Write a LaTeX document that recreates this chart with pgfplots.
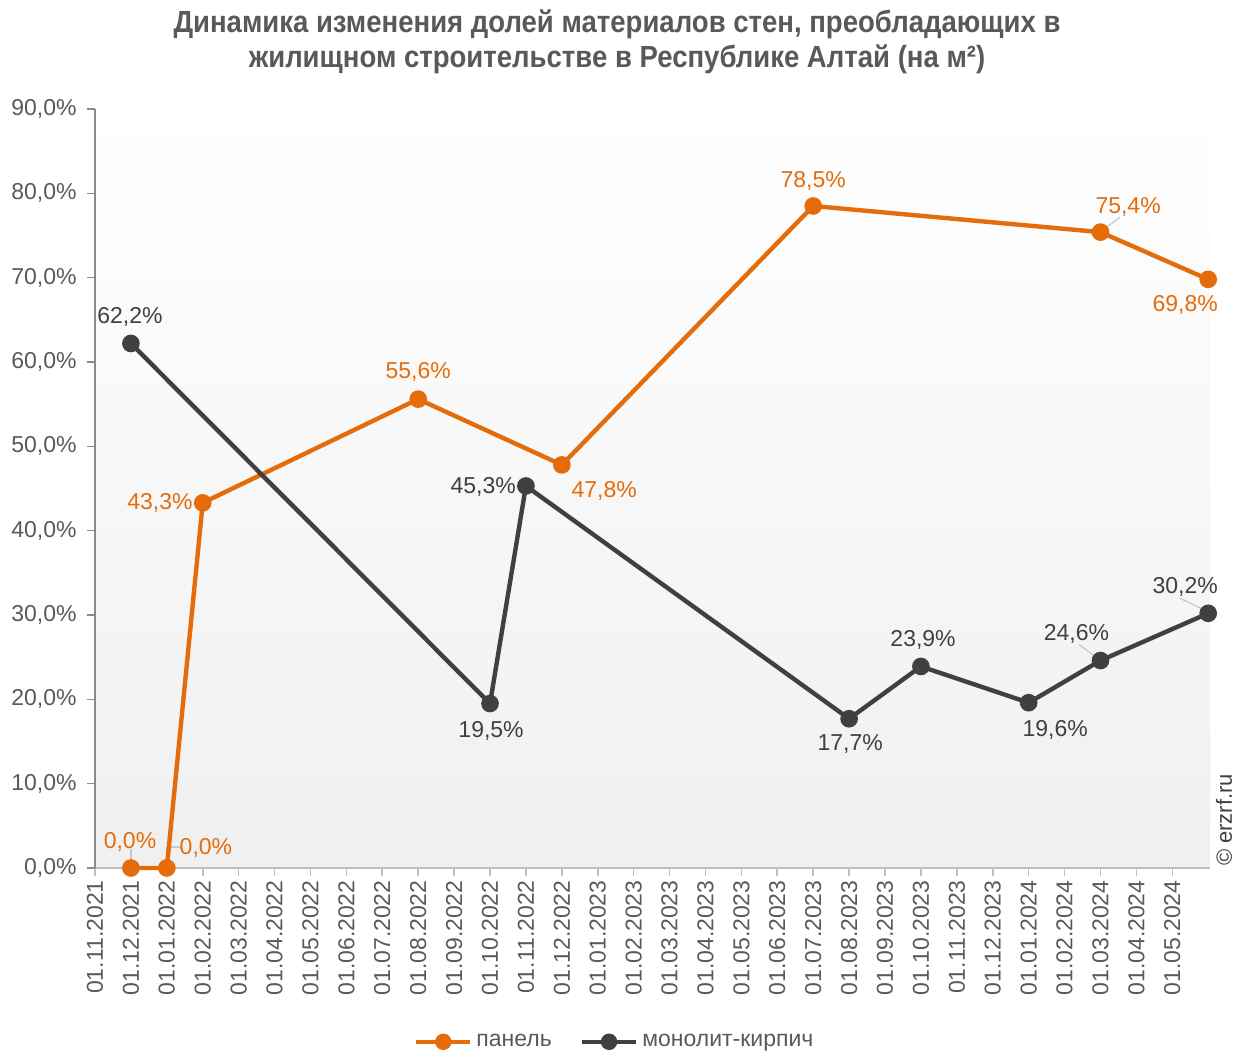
\documentclass[border=0pt]{standalone}
\usepackage{fontspec}
\setmainfont{Liberation Sans}
\newfontfamily\titlefont[FakeStretch=0.9]{Liberation Sans}
\usepackage{pgfplots}
\pgfplotsset{compat=1.18}
\definecolor{orng}{HTML}{E46C0A}
\definecolor{dgray}{HTML}{404040}
\definecolor{tgray}{HTML}{595959}
\definecolor{lead}{HTML}{C8C8C8}
\begin{document}
\begin{tikzpicture}
\path[use as bounding box] (-47.5pt,-93pt) rectangle (570.5pt,434pt);
\node[font=\titlefont\bfseries\fontsize{15.3}{17.5}\selectfont, text=tgray, align=center] at (261pt,413pt)
 {Динамика изменения долей материалов стен, преобладающих в\\ жилищном строительстве в Республике Алтай (на м²)};
\node[rotate=90, text=dgray, font=\fontsize{11}{13}\selectfont] at (564.5pt,24pt) {© erzrf.ru};
\begin{axis}[
 at={(0,0)}, anchor=south west,
 scale only axis, width=557.5pt, height=379.5pt,
 xmin=0, xmax=31.05, ymin=0, ymax=90,
 clip=false,
 axis lines=left,
 x axis line style={-, draw=black!25, line width=0.8pt},
 y axis line style={-, draw=black!46, line width=0.8pt},
 axis background/.style={top color=white, bottom color=black!6},
 tick align=outside, major tick length=4pt,
 x tick style={draw=black!25, line width=0.8pt},
 y tick style={draw=black!46, line width=0.8pt},
 xtick={0,...,30},
 xticklabels={01.11.2021,01.12.2021,01.01.2022,01.02.2022,01.03.2022,01.04.2022,01.05.2022,01.06.2022,01.07.2022,01.08.2022,01.09.2022,01.10.2022,01.11.2022,01.12.2022,01.01.2023,01.02.2023,01.03.2023,01.04.2023,01.05.2023,01.06.2023,01.07.2023,01.08.2023,01.09.2023,01.10.2023,01.11.2023,01.12.2023,01.01.2024,01.02.2024,01.03.2024,01.04.2024,01.05.2024},
 xticklabel style={rotate=90, anchor=east, text=tgray, font=\fontsize{11.5}{13}\selectfont, inner sep=2pt},
 ytick={0,10,...,90},
 yticklabel={\pgfmathprintnumber[fixed, fixed zerofill, precision=1, use comma, assume math mode=true]{\tick}\%},
 yticklabel style={text=tgray, font=\fontsize{11.5}{13}\selectfont, inner sep=2pt, xshift=-3pt},
 legend style={at={(0.467,-0.229)}, anchor=center, legend columns=2, draw=none, fill=none,
   font=\fontsize{11.5}{13}\selectfont, text=tgray, /tikz/every even column/.append style={column sep=12pt}},
 legend image code/.code={\draw[line width=2.2pt] (0pt,0pt) -- (27pt,0pt); \fill (13.5pt,0pt) circle (3pt);},
]
% leader lines
\draw[lead, line width=0.6pt] (axis cs:1,0.6) -- (axis cs:1,2.2);
\draw[lead, line width=0.6pt] (axis cs:2,0.6) -- (axis cs:2,2.5) -- (axis cs:2.4,2.5);
\draw[lead, line width=0.6pt] (axis cs:28.15,75.9) -- (axis cs:28.55,77.2);
\draw[lead, line width=0.6pt] (axis cs:27.85,25.1) -- (axis cs:27.4,26.5);
\draw[lead, line width=0.6pt] (axis cs:30.85,30.7) -- (axis cs:30.2,32.0);
\addplot[color=orng, line width=2.2pt, mark=*, mark size=3.3pt] coordinates {(1,0)(2,0)(3,43.3)(9,55.6)(13,47.8)(20,78.5)(28,75.4)(31,69.8)};
\addlegendentry{панель}
\addplot[color=dgray, line width=2.2pt, mark=*, mark size=3.3pt] coordinates {(1,62.2)(11,19.5)(12,45.3)(21,17.7)(23,23.9)(26,19.6)(28,24.6)(31,30.2)};
\addlegendentry{монолит-кирпич}
% labels
\begin{scope}[every node/.style={font=\fontsize{11.5}{13}\selectfont}]
\node[text=orng] at (axis cs:0.975,3.08) {0,0\%};
\node[text=orng] at (axis cs:3.09,2.37) {0,0\%};
\node[text=orng] at (axis cs:1.81,43.3) {43,3\%};
\node[text=orng] at (axis cs:9.0,58.8) {55,6\%};
\node[text=orng] at (axis cs:14.18,44.7) {47,8\%};
\node[text=orng] at (axis cs:20.0,81.5) {78,5\%};
\node[text=orng] at (axis cs:28.77,78.4) {75,4\%};
\node[text=orng] at (axis cs:30.36,66.8) {69,8\%};
\node[text=dgray] at (axis cs:0.975,65.3) {62,2\%};
\node[text=dgray] at (axis cs:11.03,16.2) {19,5\%};
\node[text=dgray] at (axis cs:10.81,45.2) {45,3\%};
\node[text=dgray] at (axis cs:21.03,14.7) {17,7\%};
\node[text=dgray] at (axis cs:23.06,27.0) {23,9\%};
\node[text=dgray] at (axis cs:26.74,16.4) {19,6\%};
\node[text=dgray] at (axis cs:27.33,27.7) {24,6\%};
\node[text=dgray] at (axis cs:30.36,33.3) {30,2\%};
\end{scope}
\end{axis}
\end{tikzpicture}
\end{document}
